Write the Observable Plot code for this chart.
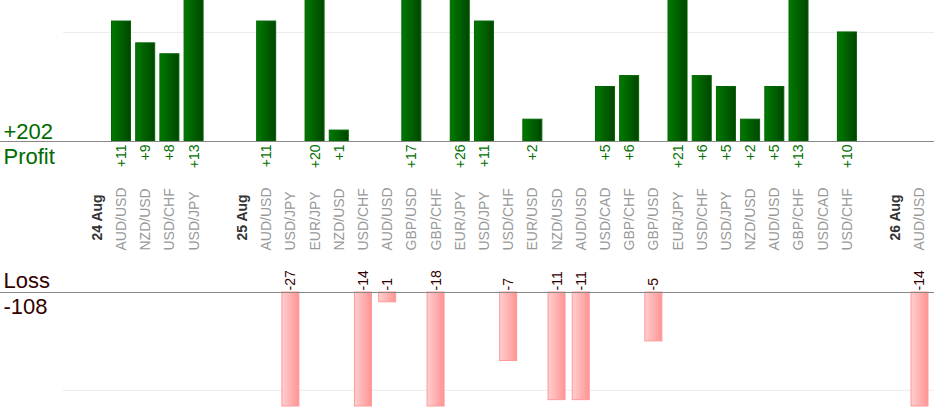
<!DOCTYPE html>
<html><head><meta charset="utf-8">
<script src="https://cdn.jsdelivr.net/npm/d3@7"></script>
<script src="https://cdn.jsdelivr.net/npm/@observablehq/plot@0.6"></script>
<style>
body{margin:0;background:#fff}
#chart svg{display:block}
</style>
</head><body><div id="chart"></div>
<script>
// Slots along the x axis (blank spacer, date header, then pair traded)
const labels = ["", "24 Aug", "AUD/USD", "NZD/USD", "USD/CHF", "USD/JPY",
  "", "25 Aug", "AUD/USD", "USD/JPY", "EUR/JPY", "NZD/USD", "USD/CHF", "AUD/USD",
  "GBP/USD", "GBP/CHF", "EUR/JPY", "USD/JPY", "USD/CHF", "EUR/USD", "NZD/USD",
  "AUD/USD", "USD/CAD", "GBP/CHF", "GBP/USD", "EUR/JPY", "USD/CHF", "USD/JPY",
  "NZD/USD", "AUD/USD", "GBP/CHF", "USD/CAD", "USD/CHF",
  "", "26 Aug", "AUD/USD"];
// Result of each trade in pips (null = no trade / header)
const results = [null, null, 11, 9, 8, 13,
  null, null, 11, -27, 20, 1, -14, -1,
  17, -18, 26, 11, -7, 2, -11,
  -11, 5, 6, -5, 21, 6, 5,
  2, 5, 13, null, 10,
  null, null, -14];
const profitGrid = [10];
const lossGrid = [-10];

const rows = labels.map((label, i) => ({i, label, value: results[i], isDate: /Aug/.test(label)}));
const profits = rows.filter(d => d.value > 0);
const losses = rows.filter(d => d.value < 0);
const pairs = rows.filter(d => d.label && !d.isDate);
const dates = rows.filter(d => d.isDate);
const totalProfit = d3.sum(profits, d => d.value);
const totalLoss = d3.sum(losses, d => d.value);

const font = "'Liberation Sans', Arial, Helvetica, sans-serif";
const xScale = {type: "band", domain: rows.map(d => d.i), range: [60.5, 931.6],
  padding: 0, round: false, axis: null};

const topPlot = Plot.plot({
  width: 934, height: 268,
  marginTop: 0, marginBottom: 127, marginLeft: 0, marginRight: 0,
  style: {fontFamily: font, background: "white"},
  x: xScale,
  y: {domain: [0, 12.93], axis: null},
  marks: [
    Plot.ruleY(profitGrid, {stroke: "#ebebeb", insetLeft: 63}),
    Plot.barY(profits, {x: "i", y: "value", fill: "url(#gradProfit)", stroke: "#006400",
      strokeWidth: 1, insetLeft: 2.6, insetRight: 2.6, clip: true}),
    Plot.ruleY([0], {stroke: "#888", strokeWidth: 1}),
    Plot.text(profits, {x: "i", y: 0, text: d => "+" + d.value, rotate: -90,
      textAnchor: "end", dy: 3, fill: "#007000", fontSize: 14}),
    Plot.text(pairs, {x: "i", y: 0, text: "label", rotate: -90,
      textAnchor: "start", dy: 109, fill: "#999", fontSize: 14}),
    Plot.text(dates, {x: "i", y: 0, text: "label", rotate: -90,
      textAnchor: "start", dy: 99, fill: "#333", fontSize: 14, fontWeight: "bold"}),
    Plot.text(["+" + totalProfit], {frameAnchor: "left", y: 0, text: d => d, textAnchor: "start",
      dx: 3, dy: -10, fontSize: 22, fill: "#006b00"}),
    Plot.text(["Profit"], {frameAnchor: "left", y: 0, text: d => d, textAnchor: "start",
      dx: 3, dy: 15, fontSize: 22, fill: "#006b00"})
  ]
});

const bottomPlot = Plot.plot({
  width: 934, height: 152,
  marginTop: 24, marginBottom: 14, marginLeft: 0, marginRight: 0,
  style: {fontFamily: font, background: "white"},
  x: xScale,
  y: {domain: [-11.65, 0], axis: null, clamp: true},
  marks: [
    Plot.ruleY(lossGrid, {stroke: "#ebebeb", insetLeft: 63}),
    Plot.barY(losses, {x: "i", y: "value", fill: "url(#gradLoss)", stroke: "#ff9999",
      strokeWidth: 1, insetLeft: 3.6, insetRight: 3.6}),
    Plot.ruleY([0], {stroke: "#888", strokeWidth: 1}),
    Plot.text(losses, {x: "i", y: 0, text: d => String(d.value), rotate: -90,
      textAnchor: "start", dy: -2, fill: "#330000", fontSize: 14}),
    Plot.text(["Loss"], {frameAnchor: "left", y: 0, text: d => d, textAnchor: "start",
      dx: 3, dy: -12, fontSize: 22, fill: "#330000"}),
    Plot.text([String(totalLoss)], {frameAnchor: "left", y: 0, text: d => d, textAnchor: "start",
      dx: 3, dy: 14, fontSize: 22, fill: "#330000"})
  ]
});

d3.select(topPlot).insert("defs", ":first-child").html(
  '<linearGradient id="gradProfit" x1="0" x2="1" y1="0" y2="0">' +
  '<stop offset="0" stop-color="#007a00"/><stop offset="1" stop-color="#004600"/></linearGradient>');
d3.select(bottomPlot).insert("defs", ":first-child").html(
  '<linearGradient id="gradLoss" x1="0" x2="1" y1="0" y2="0">' +
  '<stop offset="0" stop-color="#ffcfcf"/><stop offset="1" stop-color="#ff9494"/></linearGradient>');

const chart = document.getElementById("chart");
chart.appendChild(topPlot);
chart.appendChild(bottomPlot);
</script>
</body></html>
